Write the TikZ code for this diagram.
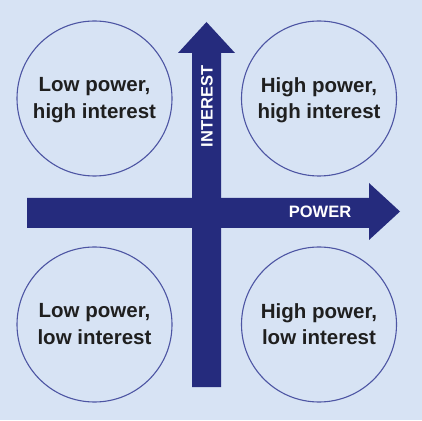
\documentclass[tikz,border=0pt]{standalone}
\usepackage{fontspec}
\setmainfont{Liberation Sans}
\definecolor{bgblue}{RGB}{215,227,244}
\definecolor{navy}{RGB}{37,43,125}
\definecolor{ringblue}{RGB}{77,85,163}
\definecolor{txt}{RGB}{31,31,31}
\begin{document}
\begin{tikzpicture}[x=1pt,y=1pt,
  ring/.style={draw=ringblue,line width=1.1pt},
  quad/.style={align=center,inner sep=0pt,text=txt,font=\fontsize{20.5}{26.5}\selectfont\bfseries},
  axislabel/.style={inner sep=0pt,text=white,font=\fontsize{16.5}{18}\selectfont\bfseries}]
\fill[bgblue] (0,0) rectangle (422,420);
\useasboundingbox (0,0) rectangle (422,420);
% circles
\draw[ring] (94.5,321.5) circle (77.5);
\draw[ring] (319,321.5) circle (77.5);
\draw[ring] (94.5,95.5) circle (77.5);
\draw[ring] (319,95.5) circle (77.5);
% arrows
\fill[navy] (192,33) -- (221,33) -- (221,367) -- (235,367) -- (206.5,398) -- (178,367) -- (192,367) -- cycle;
\fill[navy] (27,192) -- (369,192) -- (369,180) -- (400,208.5) -- (369,237) -- (369,222) -- (27,222) -- cycle;
% labels
\node[quad] (lphi) at (94.5,319.9) {Low power,\\high interest};
\node[quad] (hphi) at (319,319.9) {High power,\\high interest};
\node[quad] (lpli) at (94.5,96) {Low power,\\low interest};
\node[quad] (hpli) at (319,96) {High power,\\low interest};
\node[axislabel,rotate=90] (interest) at (207,313.5) {INTEREST};
\node[axislabel] (power) at (320,208) {POWER};
\end{tikzpicture}
\end{document}
